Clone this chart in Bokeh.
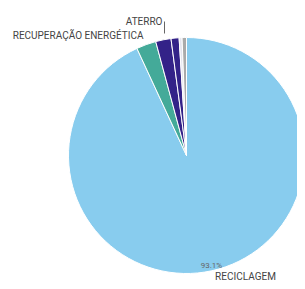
import numpy as np
from bokeh.plotting import figure
from bokeh.models import Range1d, ColumnDataSource
from bokeh.core.properties import value
from bokeh.embed import file_html
from bokeh.resources import INLINE

categories = ["RECICLAGEM", "RECUPERAÇÃO ENERGÉTICA", "ATERRO", "OUTROS 1", "OUTROS 2", "OUTROS 3"]
shares = [93.1, 2.7, 2.1, 1.1, 0.4, 0.6]
colors = ["#88CCEE", "#44AA99", "#332288", "#332288", "#E4E4EE", "#AAAAAA"]

W, H = 297, 281
p = figure(width=W, height=H, output_backend="svg", toolbar_location=None,
           x_range=Range1d(0, W), y_range=Range1d(0, H), min_border=0)
p.axis.visible = False
p.grid.visible = False
p.outline_line_color = None
p.background_fill_color = "white"

def Y(img_y):
    return H - img_y

cx, cy, r = 186, Y(155), 118
frac = np.array(shares) / sum(shares)
cum = np.concatenate([[0], np.cumsum(frac)])
start = np.pi / 2 - cum[1:] * 2 * np.pi
end = np.pi / 2 - cum[:-1] * 2 * np.pi
src = ColumnDataSource(dict(start=start, end=end, color=colors, cat=categories))
p.wedge(x=cx, y=cy, radius=r, radius_units="screen", start_angle="start", end_angle="end",
        fill_color="color", line_color="white", line_width=1, source=src)

font = value("Roboto")
p.text(x=[211], y=[Y(265)], text=[f"{shares[0]:.1f}%"], text_font=font, text_font_size="8px",
       text_color="#666666", text_align="center", text_baseline="middle")
p.text(x=[245], y=[Y(281)], text=[categories[0]], text_font=font, text_font_size="10px",
       text_color="#444444", text_align="center", text_baseline="bottom")
p.text(x=[143], y=[Y(35)], text=[categories[1]], text_font=font, text_font_size="10px",
       text_color="#444444", text_align="right", text_baseline="middle")
p.text(x=[162], y=[Y(21)], text=[categories[2]], text_font=font, text_font_size="10px",
       text_color="#444444", text_align="right", text_baseline="middle")
p.segment(x0=[164], y0=[Y(21)], x1=[164], y1=[Y(33)], line_color="#666666", line_width=1)

open("out.html", "w").write(file_html(p, INLINE))
